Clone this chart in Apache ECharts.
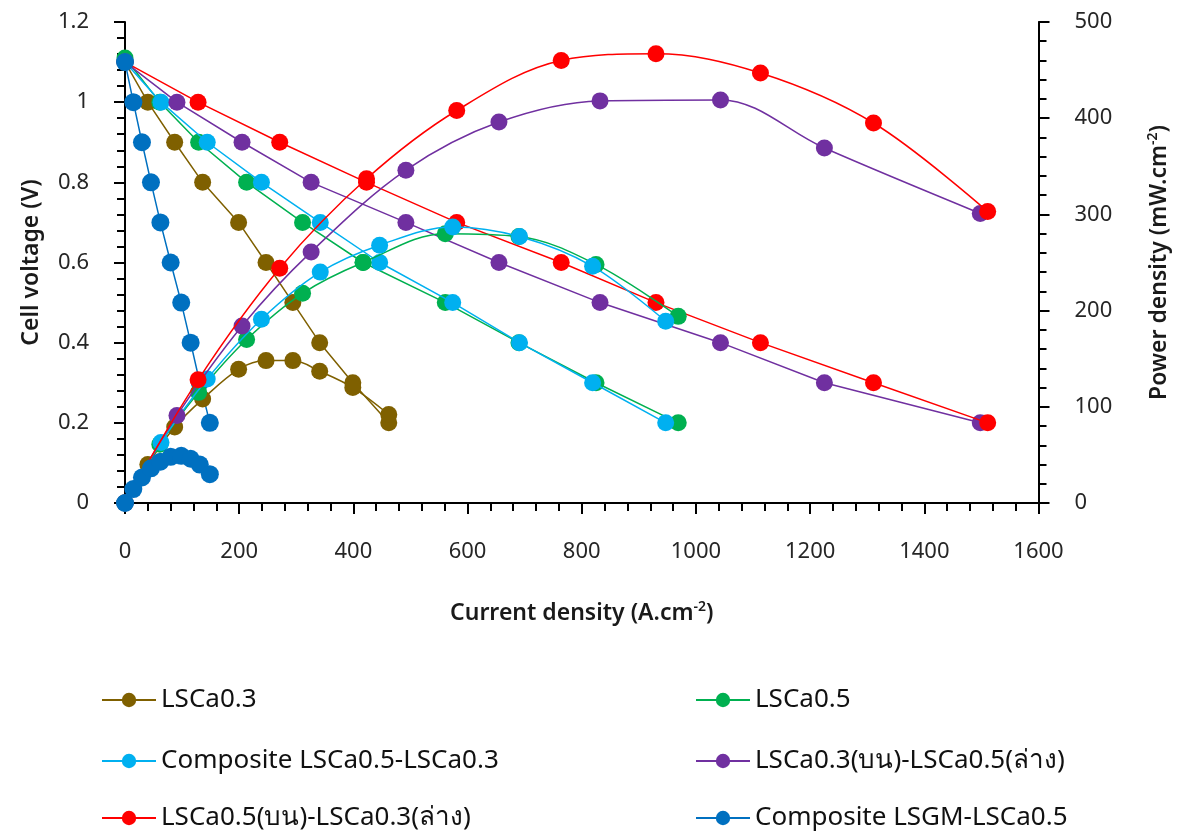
<!DOCTYPE html>
<html>
<head>
<meta charset="utf-8">
<script src="https://cdn.jsdelivr.net/npm/echarts@6/dist/echarts.min.js"></script>
<style>
  html, body { margin: 0; padding: 0; background: #ffffff; }
  #chart { width: 1179px; height: 836px; }
</style>
</head>
<body>
<div id="chart"></div>
<script>
// Cell voltage (V) and power density (mW/cm2) against current density for each cathode
const seriesNames = [
  'LSCa0.3',
  'LSCa0.5',
  'Composite LSCa0.5-LSCa0.3',
  'LSCa0.3(บน)-LSCa0.5(ล่าง)',
  'LSCa0.5(บน)-LSCa0.3(ล่าง)',
  'Composite LSGM-LSCa0.5'
];
const seriesColors = ['#7F6000', '#00B050', '#00B0F0', '#7030A0', '#FF0000', '#0070C0'];

// LSCa0.3
const currentLSCa03 = [0, 40, 87, 136, 199, 247, 294, 341, 399, 462];
const voltageLSCa03 = [1.10, 1.00, 0.90, 0.80, 0.70, 0.60, 0.50, 0.40, 0.30, 0.20];
const powerLSCa03   = [0, 40, 79, 108, 139, 148, 148, 137, 120, 92];

// LSCa0.5
const currentLSCa05 = [0, 61, 129, 213, 311, 417, 561, 690, 825, 969];
const voltageLSCa05 = [1.11, 1.00, 0.90, 0.80, 0.70, 0.60, 0.50, 0.40, 0.30, 0.20];
const powerLSCa05   = [0, 61, 115, 170, 218, 250, 280, 277, 248, 194];

// Composite LSCa0.5-LSCa0.3
const currentComposite = [0, 63, 144, 239, 342, 446, 574, 691, 819, 947];
const voltageComposite = [1.10, 1.00, 0.90, 0.80, 0.70, 0.60, 0.50, 0.40, 0.30, 0.20];
const powerComposite   = [0, 63, 129, 191, 240, 268, 287, 277, 246, 189];

// LSCa0.3 (top) - LSCa0.5 (bottom)
const currentTop03 = [0, 91, 205, 326, 492, 655, 832, 1043, 1225, 1498];
const voltageTop03 = [1.10, 1.00, 0.90, 0.80, 0.70, 0.60, 0.50, 0.40, 0.30, 0.20];
const powerTop03   = [0, 91, 184, 261, 346, 396, 418, 419, 369, 301];

// LSCa0.5 (top) - LSCa0.3 (bottom)
const currentTop05 = [0, 128, 271, 423, 581, 764, 930, 1113, 1311, 1511];
const voltageTop05 = [1.10, 1.00, 0.90, 0.80, 0.70, 0.60, 0.50, 0.40, 0.30, 0.20];
const powerTop05   = [0, 128, 244, 337, 408, 460, 467, 447, 395, 303];

// Composite LSGM-LSCa0.5
const currentLSGM = [0, 14.6, 29.7, 45.5, 62, 80, 98.5, 115, 131, 148.6];
const voltageLSGM = [1.10, 1.00, 0.90, 0.80, 0.70, 0.60, 0.50, 0.40, 0.30, 0.20];
const powerLSGM   = [0, 14.5, 26.5, 36, 43, 48, 49, 46, 40, 30];

const currentSets = [currentLSCa03, currentLSCa05, currentComposite, currentTop03, currentTop05, currentLSGM];
const voltageSets = [voltageLSCa03, voltageLSCa05, voltageComposite, voltageTop03, voltageTop05, voltageLSGM];
const powerSets   = [powerLSCa03, powerLSCa05, powerComposite, powerTop03, powerTop05, powerLSGM];

const xTicks = { min: 0, max: 1600, interval: 200 };
const voltageTicks = { min: 0, max: 1.2, interval: 0.2 };
const powerTicks = { min: 0, max: 500, interval: 100 };

const tickFont = { fontFamily: 'Noto Sans', fontSize: 22, color: '#262626' };
const titleFont = { fontFamily: 'Noto Sans', fontSize: 23, fontWeight: 600, color: '#1a1a1a' };
const supStyle = { fontFamily: 'Noto Sans', fontSize: 14, fontWeight: 600, color: '#1a1a1a', padding: [0, 0, 12, 0] };

function pairs(xs, ys) {
  return xs.map((x, i) => [x, ys[i]]);
}

// plain numbers, no thousands separator
function plain(v) {
  return String(Math.round(v * 1000) / 1000);
}

const axisLine = { show: true, lineStyle: { color: '#000', width: 2 } };
const axisTick = { show: true, length: 11, lineStyle: { color: '#000', width: 2 } };
const minorTick = { show: true, splitNumber: 5, length: 8, lineStyle: { color: '#000', width: 2 } };

const series = [];
// voltage curves on the primary axis
seriesNames.forEach((name, i) => {
  series.push({
    name: name,
    type: 'line',
    xAxisIndex: 0,
    yAxisIndex: 0,
    data: pairs(currentSets[i], voltageSets[i]),
    symbol: 'circle',
    symbolSize: i === 5 ? 18 : 17,
    itemStyle: { color: seriesColors[i] },
    lineStyle: { color: seriesColors[i], width: 1.5 },
    smooth: false,
    animation: false,
    z: 2 + i
  });
});
// power curves on the secondary axis
seriesNames.forEach((name, i) => {
  series.push({
    name: name,
    type: 'line',
    xAxisIndex: 0,
    yAxisIndex: 1,
    data: pairs(currentSets[i], powerSets[i]),
    symbol: 'circle',
    symbolSize: i === 5 ? 18 : 17,
    itemStyle: { color: seriesColors[i] },
    lineStyle: { color: seriesColors[i], width: 1.5 },
    smooth: 0.35,
    animation: false,
    z: 10 + i
  });
});

// legend laid out in two columns, three rows
const legendCols = [96, 690];
const legendRows = [682, 743, 800];
const legends = seriesNames.map((name, i) => ({
  data: [name],
  left: legendCols[i % 2],
  top: legendRows[Math.floor(i / 2)],
  itemWidth: 54,
  itemHeight: 18,
  selectedMode: false,
  textStyle: { fontFamily: 'Noto Sans', fontSize: 26, color: '#111' }
}));

const option = {
  backgroundColor: '#ffffff',
  animation: false,
  grid: { left: 125, right: 139, top: 22, bottom: 333, containLabel: false },
  legend: legends,
  xAxis: [{
    type: 'value',
    min: xTicks.min, max: xTicks.max, interval: xTicks.interval,
    name: 'Current density (A.cm{sup|-2})',
    nameLocation: 'middle',
    nameGap: 97,
    nameTextStyle: Object.assign({}, titleFont, { rich: { sup: supStyle } }),
    axisLine: axisLine,
    axisTick: axisTick,
    minorTick: minorTick,
    splitLine: { show: false },
    axisLabel: Object.assign({ margin: 38, formatter: plain }, tickFont)
  }],
  yAxis: [{
    type: 'value',
    position: 'left',
    min: voltageTicks.min, max: voltageTicks.max, interval: voltageTicks.interval,
    name: 'Cell voltage (V)',
    nameLocation: 'middle',
    nameGap: 82,
    nameRotate: 90,
    nameTextStyle: titleFont,
    axisLine: axisLine,
    axisTick: axisTick,
    minorTick: minorTick,
    splitLine: { show: false },
    axisLabel: Object.assign({ margin: 36, formatter: plain }, tickFont)
  }, {
    type: 'value',
    position: 'right',
    min: powerTicks.min, max: powerTicks.max, interval: powerTicks.interval,
    name: 'Power density (mW.cm{sup|-2})',
    nameLocation: 'middle',
    nameGap: 108,
    nameRotate: 90,
    nameTextStyle: Object.assign({}, titleFont, { rich: { sup: supStyle } }),
    axisLine: axisLine,
    axisTick: axisTick,
    minorTick: minorTick,
    splitLine: { show: false },
    axisLabel: Object.assign({ margin: 36, formatter: plain }, tickFont)
  }],
  series: series
};

const chart = echarts.init(document.getElementById('chart'), null, { renderer: 'canvas' });
chart.setOption(option);
</script>
</body>
</html>
